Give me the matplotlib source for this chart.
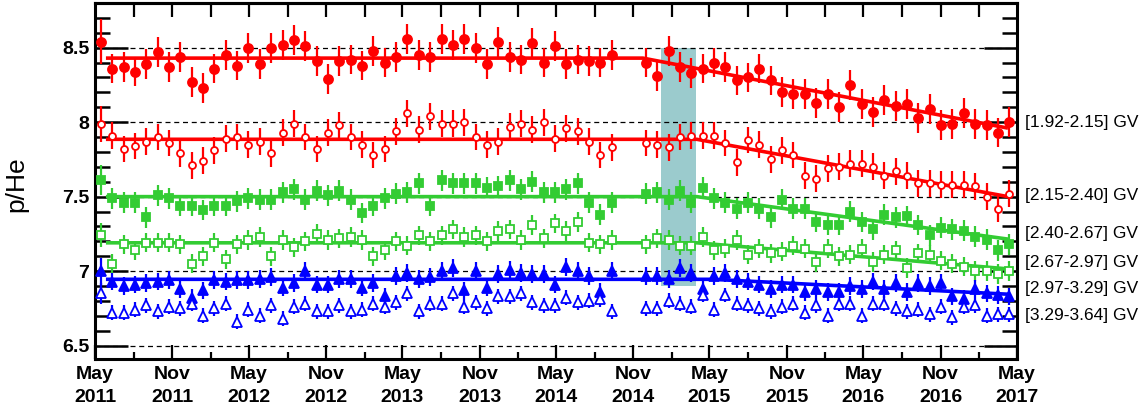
import numpy as np
import matplotlib.pyplot as plt
import matplotlib.dates as mdates
from matplotlib.ticker import MultipleLocator

plt.rcParams['font.family'] = ['Liberation Sans', 'DejaVu Sans']

# Bartels rotations 2426-2506; 2472 and 2473 have no data
bartels = [n for n in range(2426, 2507) if n not in (2472, 2473)]

# p/He ratio per rigidity bin, one value per Bartels rotation
s1 = [8.54, 8.36, 8.37, 8.34, 8.39, 8.47, 8.37, 8.44, 8.27, 8.23,
      8.36, 8.45, 8.38, 8.50, 8.39, 8.50, 8.52, 8.55, 8.51, 8.41,
      8.29, 8.41, 8.42, 8.38, 8.48, 8.40, 8.44, 8.56, 8.45, 8.44,
      8.56, 8.52, 8.56, 8.50, 8.39, 8.54, 8.44, 8.42, 8.53, 8.40,
      8.51, 8.39, 8.42, 8.41, 8.40, 8.45,
      8.40, 8.31, 8.48, 8.37, 8.33, 8.36, 8.40, 8.37, 8.28, 8.30,
      8.36, 8.28, 8.20, 8.19, 8.19, 8.13, 8.19, 8.10, 8.25, 8.12,
      8.07, 8.15, 8.11, 8.12, 8.03, 8.09, 7.98, 7.99, 8.06, 7.99,
      7.98, 7.93, 8.00]
s2 = [7.99, 7.91, 7.82, 7.84, 7.87, 7.90, 7.86, 7.79, 7.71, 7.74,
      7.81, 7.89, 7.90, 7.85, 7.87, 7.79, 7.93, 7.99, 7.90, 7.82,
      7.93, 7.98, 7.90, 7.85, 7.78, 7.82, 7.94, 8.06, 7.95, 8.04,
      7.99, 7.99, 8.00, 7.90, 7.85, 7.87, 7.97, 7.99, 7.95, 8.00,
      7.89, 7.96, 7.94, 7.87, 7.78, 7.83,
      7.86, 7.85, 7.83, 7.90, 7.91, 7.91, 7.91, 7.86, 7.73, 7.88,
      7.85, 7.75, 7.81, 7.78, 7.64, 7.62, 7.69, 7.70, 7.72, 7.72,
      7.70, 7.64, 7.67, 7.64, 7.59, 7.59, 7.58, 7.58, 7.58, 7.57,
      7.50, 7.42, 7.52]
s3 = [7.61, 7.49, 7.46, 7.46, 7.36, 7.51, 7.49, 7.44, 7.44, 7.41,
      7.44, 7.44, 7.47, 7.49, 7.48, 7.48, 7.53, 7.55, 7.48, 7.54,
      7.51, 7.54, 7.48, 7.39, 7.44, 7.49, 7.52, 7.53, 7.59, 7.44,
      7.61, 7.59, 7.59, 7.59, 7.56, 7.57, 7.61, 7.55, 7.60, 7.53,
      7.53, 7.55, 7.59, 7.46, 7.38, 7.46,
      7.52, 7.53, 7.48, 7.54, 7.46, 7.56, 7.49, 7.46, 7.42, 7.46,
      7.42, 7.36, 7.48, 7.42, 7.42, 7.33, 7.31, 7.31, 7.40, 7.33,
      7.28, 7.38, 7.36, 7.37, 7.31, 7.24, 7.29, 7.28, 7.27, 7.23,
      7.21, 7.14, 7.18]
s4 = [7.24, 7.05, 7.18, 7.14, 7.19, 7.19, 7.19, 7.18, 7.05, 7.10,
      7.19, 7.08, 7.18, 7.21, 7.23, 7.10, 7.21, 7.16, 7.20, 7.25,
      7.21, 7.22, 7.23, 7.21, 7.10, 7.14, 7.20, 7.17, 7.24, 7.20,
      7.24, 7.28, 7.23, 7.24, 7.20, 7.27, 7.28, 7.21, 7.31, 7.22,
      7.32, 7.27, 7.33, 7.19, 7.18, 7.21,
      7.18, 7.22, 7.21, 7.17, 7.17, 7.23, 7.14, 7.15, 7.21, 7.11,
      7.15, 7.12, 7.13, 7.17, 7.15, 7.06, 7.15, 7.10, 7.11, 7.15,
      7.06, 7.11, 7.14, 7.02, 7.12, 7.11, 7.07, 7.05, 7.03, 7.00,
      7.00, 6.98, 7.00]
s5 = [7.00, 6.93, 6.90, 6.91, 6.92, 6.93, 6.94, 6.88, 6.82, 6.87,
      6.94, 6.93, 6.94, 6.94, 6.95, 6.96, 6.89, 6.92, 7.00, 6.91,
      6.91, 6.95, 6.95, 6.89, 6.92, 6.83, 6.97, 6.99, 6.95, 6.96,
      7.00, 7.02, 6.87, 7.00, 6.89, 6.98, 7.01, 6.99, 6.98, 6.98,
      6.91, 7.03, 7.00, 6.97, 6.86, 7.00,
      6.97, 6.97, 6.95, 7.02, 6.99, 6.88, 6.97, 6.99, 6.95, 6.93,
      6.91, 6.88, 6.91, 6.91, 6.86, 6.88, 6.86, 6.86, 6.90, 6.88,
      6.93, 6.88, 6.92, 6.86, 6.92, 6.90, 6.92, 6.83, 6.81, 6.88,
      6.85, 6.84, 6.83]
s6 = [6.85, 6.72, 6.72, 6.74, 6.77, 6.73, 6.76, 6.75, 6.78, 6.70,
      6.75, 6.78, 6.66, 6.74, 6.70, 6.77, 6.68, 6.76, 6.78, 6.73,
      6.73, 6.77, 6.73, 6.74, 6.78, 6.76, 6.79, 6.85, 6.73, 6.78,
      6.78, 6.85, 6.76, 6.79, 6.75, 6.83, 6.83, 6.85, 6.79, 6.77,
      6.77, 6.82, 6.79, 6.80, 6.81, 6.73,
      6.75, 6.75, 6.80, 6.78, 6.76, 6.84, 6.74, 6.84, 6.78, 6.77,
      6.75, 6.73, 6.76, 6.78, 6.72, 6.77, 6.70, 6.78, 6.78, 6.70,
      6.78, 6.78, 6.75, 6.73, 6.74, 6.71, 6.76, 6.69, 6.76, 6.77,
      6.70, 6.71, 6.71]

series = [s1, s2, s3, s4, s5, s6]
bins = ['[1.92-2.15] GV', '[2.15-2.40] GV', '[2.40-2.67] GV',
        '[2.67-2.97] GV', '[2.97-3.29] GV', '[3.29-3.64] GV']
label_y = [8.00, 7.51, 7.25, 7.06, 6.88, 6.70]
err = [0.10, 0.09, 0.07, 0.065, 0.06, 0.05]
err_first = [0.15, 0.12, 0.10, 0.08, 0.09, 0.07]

# fitted trend: flat level, then linear decrease after the break
fit_level = [8.43, 7.885, 7.50, 7.19, 6.945]
fit_break = ['2014-11-24', '2015-04-01', '2015-04-01', '2015-04-01', '2015-05-07']
fit_end = [7.96, 7.50, 7.215, 7.015, 6.845]
fit_span = ['2011-05-27', '2017-04-10']

band = ['2015-01-07', '2015-03-29']
band_y = [6.90, 8.50]

xtick_dates = ['2011-05-01', '2011-11-01', '2012-05-01', '2012-11-01',
               '2013-05-01', '2013-11-01', '2014-05-01', '2014-11-01',
               '2015-05-01', '2015-11-01', '2016-05-01', '2016-11-01',
               '2017-05-01']
xtick_labels = ['May\n2011', 'Nov\n2011', 'May\n2012', 'Nov\n2012',
                'May\n2013', 'Nov\n2013', 'May\n2014', 'Nov\n2014',
                'May\n2015', 'Nov\n2015', 'May\n2016', 'Nov\n2016',
                'May\n2017']
ytick_vals = [6.5, 7, 7.5, 8, 8.5]
ytick_labels = ['6.5', '7', '7.5', '8', '8.5']

colors = ['#ff0000', '#ff0000', '#33cc33', '#33cc33', '#0000ff', '#0000ff']
markers = ['o', 'o', 's', 's', '^', '^']
filled = [True, False, True, False, True, False]
msize = [6.5, 5, 6, 6, 7, 7]

# start date of each Bartels rotation (rotation 1 began 1832-02-08)
dates = np.datetime64('1832-02-08') + (np.array(bartels) - 1) * np.timedelta64(27, 'D')
x = mdates.date2num(dates)

def d(s):
    return mdates.date2num(np.datetime64(s))

fig = plt.figure(figsize=(11.46, 4.12), dpi=100)
ax = fig.add_axes([95 / 1146, 53 / 412, 922 / 1146, 356 / 412])

ax.fill_between([d(band[0]), d(band[1])], band_y[0], band_y[1],
                color='#9bcbcd', lw=0, zorder=1)

for k in range(6):
    e = np.full(len(series[k]), err[k])
    e[0] = err_first[k]
    ax.errorbar(x, series[k], yerr=e, fmt=markers[k], color=colors[k],
                ms=msize[k], mec=colors[k],
                mfc=colors[k] if filled[k] else 'white',
                mew=1.3, elinewidth=1.6, capsize=0, zorder=3)

for k in range(5):
    ax.plot([d(fit_span[0]), d(fit_break[k]), d(fit_span[1])],
            [fit_level[k], fit_level[k], fit_end[k]],
            color=colors[k], lw=2.6, zorder=2, solid_capstyle='butt')

for k in range(6):
    ax.text(1.0085, label_y[k], bins[k], transform=ax.get_yaxis_transform(),
            fontsize=12.5, va='center', ha='left', color='black', clip_on=False)

ax.set_xlim(d('2011-05-01'), d('2017-05-01') + 0.5)
ax.set_ylim(6.41, 8.80)

ax.set_xticks(mdates.date2num(np.array(xtick_dates, dtype='datetime64[D]')),
              xtick_labels, fontsize=14, fontweight='bold', linespacing=1.45)
minor_dates = np.arange(np.datetime64('2011-08'), np.datetime64('2017-05'),
                        np.timedelta64(6, 'M')).astype('datetime64[D]')
ax.set_xticks(mdates.date2num(minor_dates), minor=True)
ax.set_yticks(ytick_vals, ytick_labels, fontsize=14, fontweight='bold')
ax.yaxis.set_minor_locator(MultipleLocator(0.1))

ax.tick_params(axis='y', which='major', direction='in', length=24, width=1.8,
               left=True, right=True, pad=4)
ax.tick_params(axis='y', which='minor', direction='in', length=11, width=1.8,
               left=True, right=True)
ax.tick_params(axis='x', which='major', direction='in', length=10, width=1.6,
               top=False, pad=5)
ax.tick_params(axis='x', which='minor', direction='in', length=5, width=1.6,
               top=False)

top = ax.secondary_xaxis('top')
top_dates = np.arange(np.datetime64('2011-08'), np.datetime64('2017-05'),
                      np.timedelta64(3, 'M')).astype('datetime64[D]')
top.set_xticks(mdates.date2num(top_dates))
top.tick_params(direction='in', length=10, width=1.6, labeltop=False)
top.spines['top'].set_linewidth(2.2)

ax.grid(axis='y', which='major', color='black', lw=0.9, ls=(0, (4, 3)), zorder=0)

for sp in ax.spines.values():
    sp.set_linewidth(2.2)

ax.set_ylabel('p/He', fontsize=19)
ax.yaxis.set_label_coords(-0.072, 0.49)

fig.savefig('out.png', dpi=100)
